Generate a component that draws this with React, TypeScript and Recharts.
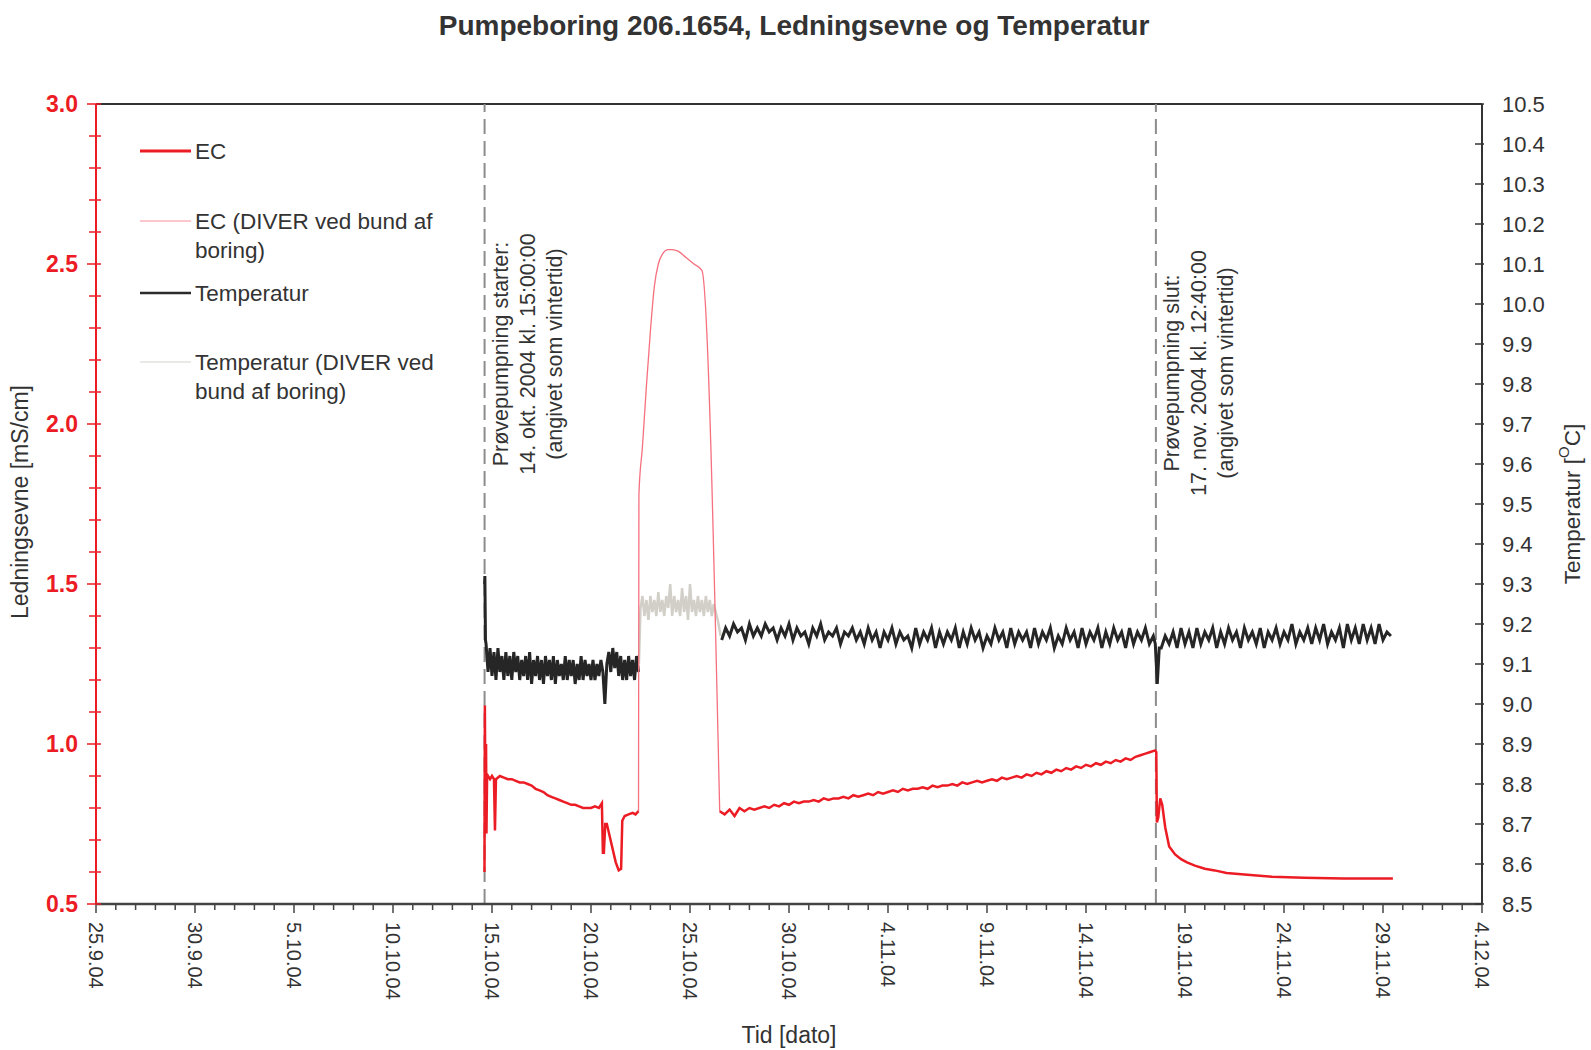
import React from "react";
import { LineChart, Line, XAxis, YAxis, ReferenceLine } from "recharts";

const W = 1591;
const H = 1050;
const FONT = "'Liberation Sans', Arial, sans-serif";
const RED = "#ec1c24";
const TXT = "#333333";

// x-axis: days after 25.9.04
const dateLabels = [
  "25.9.04", "30.9.04", "5.10.04", "10.10.04", "15.10.04", "20.10.04", "25.10.04",
  "30.10.04", "4.11.04", "9.11.04", "14.11.04", "19.11.04", "24.11.04", "29.11.04", "4.12.04",
];
const dayTicks = Array.from({ length: 71 }, (_, i) => i);
const ecTicks = Array.from({ length: 26 }, (_, i) => +(0.5 + i * 0.1).toFixed(1));
const tempTicks = Array.from({ length: 21 }, (_, i) => +(8.5 + i * 0.1).toFixed(1));

const pumpStart = 19.625; // 14.10.04 15:00
const pumpEnd = 53.53; // 17.11.04 12:40

// EC, thick red, before the diver period
const ecA: [number, number][] = [
  [19.62, 0.6], [19.64, 1.12], [19.66, 0.88], [19.7, 1.0], [19.72, 0.72], [19.75, 0.89],
  [19.8, 0.9], [19.9, 0.89], [20.0, 0.9], [20.1, 0.89], [20.15, 0.73], [20.2, 0.89],
  [20.4, 0.9], [20.6, 0.895], [20.8, 0.89], [21.0, 0.89], [21.2, 0.885], [21.4, 0.88],
  [21.6, 0.88], [21.8, 0.875], [22.0, 0.87], [22.2, 0.86], [22.4, 0.855], [22.6, 0.85],
  [22.8, 0.84], [23.0, 0.835], [23.2, 0.83], [23.4, 0.825], [23.6, 0.82], [23.8, 0.815],
  [24.0, 0.81], [24.2, 0.81], [24.4, 0.805], [24.6, 0.8], [24.8, 0.8], [25.0, 0.8],
  [25.2, 0.805], [25.4, 0.8], [25.55, 0.815], [25.6, 0.66], [25.65, 0.66], [25.72, 0.75],
  [25.8, 0.75], [25.95, 0.71], [26.1, 0.67], [26.25, 0.63], [26.4, 0.605], [26.52, 0.61],
  [26.58, 0.76], [26.7, 0.775], [26.9, 0.78], [27.1, 0.785], [27.25, 0.78], [27.4, 0.79],
];

// EC from the diver at the bottom of the well
const ecDiver: [number, number][] = [
  [27.4, 0.79], [27.42, 1.78], [27.6, 1.93], [27.8, 2.12], [28.0, 2.29], [28.2, 2.43],
  [28.4, 2.5], [28.6, 2.53], [28.9, 2.545], [29.1, 2.545], [29.4, 2.54], [29.8, 2.52],
  [30.2, 2.5], [30.6, 2.48], [31.5, 0.79],
];

// EC, thick red, logged every 0.25 day from 31.5
const ecBStart = 31.5;
const ecBStep = 0.25;
const ecB = [
  0.79, 0.78, 0.795, 0.775, 0.8, 0.79, 0.8, 0.795,
  0.8, 0.805, 0.8, 0.81, 0.805, 0.815, 0.81, 0.82, 0.815, 0.82,
  0.82, 0.825, 0.82, 0.83, 0.825, 0.83, 0.83, 0.835, 0.83, 0.84,
  0.835, 0.84, 0.845, 0.84, 0.85, 0.845, 0.85, 0.855, 0.85, 0.86,
  0.855, 0.86, 0.86, 0.865, 0.86, 0.87, 0.865, 0.87, 0.87, 0.875,
  0.87, 0.88, 0.875, 0.88, 0.885, 0.88, 0.885, 0.89, 0.885, 0.895,
  0.89, 0.895, 0.9, 0.895, 0.905, 0.9, 0.91, 0.905, 0.915, 0.91,
  0.92, 0.915, 0.925, 0.92, 0.93, 0.925, 0.935, 0.93, 0.94, 0.935,
  0.945, 0.94, 0.95, 0.945, 0.955, 0.95, 0.96, 0.965, 0.97, 0.975,
  0.98,
];

// EC after pumping stopped
const ecC: [number, number][] = [
  [53.55, 0.975], [53.58, 0.755], [53.65, 0.77], [53.75, 0.83], [53.85, 0.81], [54.0, 0.74],
  [54.2, 0.68], [54.5, 0.655], [54.8, 0.64], [55.1, 0.63], [55.5, 0.62], [56.0, 0.61],
  [56.5, 0.605], [57.1, 0.597], [58.0, 0.592], [59.4, 0.585], [61.0, 0.582], [63.0, 0.58],
  [65.5, 0.58],
];

// Temperature, black, first period
const tempStartPts: [number, number][] = [[19.625, 9.3], [19.64, 9.32], [19.67, 9.16]];
const tempAStart = 19.7;
const tempAStep = 0.1;
const tempA = [
  9.15, 9.08, 9.14, 9.07, 9.13, 9.06, 9.14, 9.08, 9.12, 9.06,
  9.13, 9.07, 9.12, 9.06, 9.13, 9.08, 9.12, 9.06, 9.11, 9.07,
  9.12, 9.06, 9.13, 9.05, 9.11, 9.07, 9.12, 9.06, 9.11, 9.05,
  9.12, 9.07, 9.11, 9.06, 9.12, 9.05, 9.11, 9.07, 9.1, 9.06,
  9.12, 9.06, 9.11, 9.07, 9.11, 9.05, 9.1, 9.06, 9.12, 9.06,
  9.11, 9.07, 9.1, 9.06, 9.11, 9.06, 9.1, 9.07, 9.11, 9.08,
  9.0,
  9.1, 9.13, 9.08, 9.14, 9.09, 9.13, 9.07, 9.12, 9.06,
  9.11, 9.06, 9.12, 9.07, 9.11, 9.06, 9.12, 9.08,
];

// Temperature from the diver
const tempDiverStart = 27.5;
const tempDiverStep = 0.1;
const tempDiver = [
  9.24, 9.27, 9.22, 9.26, 9.21, 9.27, 9.23, 9.26, 9.22, 9.28,
  9.23, 9.26, 9.22, 9.27, 9.24, 9.3, 9.22, 9.27, 9.23, 9.26,
  9.22, 9.29, 9.23, 9.27, 9.21, 9.3, 9.23, 9.26, 9.22, 9.27,
  9.23, 9.26, 9.22, 9.27, 9.23, 9.26, 9.22, 9.25, 9.23,
];
const tempDiverEnds: [number, number][] = [[27.42, 9.1], [31.4, 9.21], [31.55, 9.17]];

// Temperature, black, second period (logged every 0.2 day)
const tempBStep = 0.2;
const tempB1Start = 31.6;
const tempB1 = [
  9.16, 9.19, 9.17, 9.2, 9.18, 9.19, 9.16, 9.2, 9.17, 9.19,
  9.17, 9.2, 9.18, 9.19, 9.16, 9.19, 9.17, 9.2, 9.16, 9.19,
  9.17, 9.18, 9.15, 9.19, 9.17, 9.2, 9.16, 9.18, 9.17, 9.19,
  9.15, 9.18, 9.17, 9.19, 9.16, 9.18, 9.15, 9.19, 9.16, 9.18,
  9.14, 9.18, 9.16, 9.19, 9.15, 9.18, 9.16, 9.17, 9.14, 9.19,
  9.15, 9.18, 9.16, 9.19, 9.14, 9.18, 9.15, 9.18, 9.16, 9.19,
  9.14, 9.18, 9.15, 9.19, 9.16, 9.18, 9.14, 9.17, 9.15, 9.19,
  9.16, 9.18, 9.14, 9.19, 9.15, 9.18, 9.16, 9.18, 9.14, 9.19,
  9.15, 9.18, 9.16, 9.19, 9.14, 9.17, 9.15, 9.19, 9.16, 9.18,
  9.14, 9.19, 9.15, 9.18, 9.16, 9.19, 9.14, 9.18, 9.15, 9.19,
  9.16, 9.18, 9.14, 9.19, 9.15, 9.18, 9.16, 9.19, 9.15, 9.17,
];
const tempDip: [number, number][] = [[53.5, 9.15], [53.6, 9.05], [53.7, 9.14]];
const tempB2Start = 53.8;
const tempB2 = [
  9.14, 9.17, 9.15, 9.18, 9.14, 9.19, 9.15, 9.18, 9.14,
  9.19, 9.15, 9.18, 9.16, 9.19, 9.14, 9.18, 9.15, 9.19, 9.16,
  9.18, 9.14, 9.19, 9.16, 9.18, 9.15, 9.19, 9.14, 9.18, 9.16,
  9.19, 9.15, 9.18, 9.16, 9.2, 9.15, 9.18, 9.16, 9.19, 9.15,
  9.19, 9.16, 9.2, 9.15, 9.18, 9.16, 9.19, 9.14, 9.2, 9.16,
  9.19, 9.15, 9.2, 9.16, 9.19, 9.15, 9.2, 9.16, 9.18, 9.17,
];

type Pt = { x: number; v: number };
const fromPairs = (p: [number, number][]): Pt[] => p.map(([x, v]) => ({ x, v }));
const fromLog = (start: number, step: number, vals: number[]): Pt[] =>
  vals.map((v, i) => ({ x: +(start + i * step).toFixed(3), v }));

const ecLine1 = fromPairs(ecA);
const ecDiverLine = fromPairs(ecDiver);
const ecLine2 = [...fromLog(ecBStart, ecBStep, ecB), ...fromPairs(ecC)];
const tempLine1 = [...fromPairs(tempStartPts), ...fromLog(tempAStart, tempAStep, tempA)];
const tempDiverLine = [
  fromPairs(tempDiverEnds.slice(0, 1))[0],
  ...fromLog(tempDiverStart, tempDiverStep, tempDiver),
  ...fromPairs(tempDiverEnds.slice(1)),
];
const tempLine2 = [
  ...fromLog(tempB1Start, tempBStep, tempB1),
  ...fromPairs(tempDip),
  ...fromLog(tempB2Start, tempBStep, tempB2),
];

const startNote = ["Prøvepumpning starter:", "14. okt. 2004 kl. 15:00:00", "(angivet som vintertid)"];
const endNote = ["Prøvepumpning slut:", "17. nov. 2004 kl. 12:40:00", "(angivet som vintertid)"];

const XTick = (props: any) => {
  const { x, y, payload } = props;
  const d = payload.value as number;
  const major = d % 5 === 0;
  return (
    <g>
      <line x1={x} x2={x} y1={y - 1} y2={y + (major ? 9 : 6)} stroke="#444" strokeWidth={1.5} />
      {major && (
        <text
          transform={`rotate(90 ${x} ${y + 18})`}
          x={x}
          y={y + 18}
          textAnchor="start"
          dominantBaseline="central"
          fontSize={20}
          fill={TXT}
          fontFamily={FONT}
        >
          {dateLabels[d / 5]}
        </text>
      )}
    </g>
  );
};

const LeftTick = (props: any) => {
  const { x, y, payload } = props;
  const v = payload.value as number;
  const major = Math.abs(v * 2 - Math.round(v * 2)) < 1e-6;
  return (
    <g>
      <line x1={x - (major ? 9 : 7)} x2={x + 5} y1={y} y2={y} stroke={RED} strokeWidth={1.5} />
      {major && (
        <text x={x - 18} y={y} textAnchor="end" dominantBaseline="central" fontSize={23}
          fontWeight="bold" fill={RED} fontFamily={FONT}>
          {v.toFixed(1)}
        </text>
      )}
    </g>
  );
};

const RightTick = (props: any) => {
  const { x, y, payload } = props;
  const v = payload.value as number;
  return (
    <g>
      <line x1={x - 7} x2={x + 2} y1={y} y2={y} stroke="#333" strokeWidth={1.5} />
      <text x={x + 20} y={y} textAnchor="start" dominantBaseline="central" fontSize={22}
        fill={TXT} fontFamily={FONT}>
        {v.toFixed(1)}
      </text>
    </g>
  );
};

const Note = (props: any) => {
  const { viewBox, lines, cy } = props;
  const x0 = viewBox ? viewBox.x : 0;
  return (
    <g>
      {lines.map((t: string, i: number) => {
        const cx = x0 + 16 + i * 27;
        return (
          <text key={i} transform={`rotate(-90 ${cx} ${cy})`} x={cx} y={cy} textAnchor="middle"
            dominantBaseline="central" fontSize={21.5} fill={TXT} fontFamily={FONT}>
            {t}
          </text>
        );
      })}
    </g>
  );
};

const legendItems = [
  { lines: ["EC"], color: RED, width: 3, y: 151 },
  { lines: ["EC (DIVER ved bund af", "boring)"], color: "#f7909a", width: 1.2, y: 221 },
  { lines: ["Temperatur"], color: "#2b2b2b", width: 2.5, y: 293 },
  { lines: ["Temperatur (DIVER ved", "bund af boring)"], color: "#e4e2dc", width: 1.5, y: 362 },
];

export default function App() {
  return (
    <div style={{ position: "relative", width: W, height: H, background: "#fff" }}>
      <style>{"body{margin:0;}"}</style>
      <LineChart width={W} height={H} margin={{ top: 104, right: 0, bottom: 0, left: 0 }}>
        <XAxis
          dataKey="x"
          type="number"
          domain={[0, 70]}
          ticks={dayTicks}
          interval={0}
          height={146}
          tickSize={0}
          tickMargin={0}
          tick={<XTick />}
          axisLine={{ stroke: "#444", strokeWidth: 2.5 }}
          allowDataOverflow
        />
        <YAxis
          yAxisId="ec"
          orientation="left"
          domain={[0.5, 3]}
          ticks={ecTicks}
          interval={0}
          width={96}
          tickSize={0}
          tickMargin={0}
          tick={<LeftTick />}
          axisLine={{ stroke: RED, strokeWidth: 2 }}
          allowDataOverflow
        />
        <YAxis
          yAxisId="temp"
          orientation="right"
          domain={[8.5, 10.5]}
          ticks={tempTicks}
          interval={0}
          width={109}
          tickSize={0}
          tickMargin={0}
          tick={<RightTick />}
          axisLine={{ stroke: "#333", strokeWidth: 2 }}
          allowDataOverflow
        />
        <ReferenceLine yAxisId="ec" y={3} stroke="#333" strokeWidth={2} />
        <ReferenceLine
          yAxisId="ec"
          x={pumpStart}
          stroke="#8c8c8c"
          strokeWidth={2}
          strokeDasharray="15 7"
          label={<Note lines={startNote} cy={354} />}
        />
        <ReferenceLine
          yAxisId="ec"
          x={pumpEnd}
          stroke="#8c8c8c"
          strokeWidth={2}
          strokeDasharray="15 7"
          label={<Note lines={endNote} cy={373} />}
        />
        <Line yAxisId="temp" data={tempDiverLine} dataKey="v" stroke="#d2cfc8" strokeWidth={2.5}
          dot={false} type="linear" isAnimationActive={false} />
        <Line yAxisId="temp" data={tempLine1} dataKey="v" stroke="#262626" strokeWidth={3}
          dot={false} type="linear" isAnimationActive={false} />
        <Line yAxisId="temp" data={tempLine2} dataKey="v" stroke="#262626" strokeWidth={3}
          dot={false} type="linear" isAnimationActive={false} />
        <Line yAxisId="ec" data={ecDiverLine} dataKey="v" stroke="#f6707e" strokeWidth={1.3}
          dot={false} type="monotone" isAnimationActive={false} />
        <Line yAxisId="ec" data={ecLine1} dataKey="v" stroke={RED} strokeWidth={2.5}
          dot={false} type="linear" isAnimationActive={false} />
        <Line yAxisId="ec" data={ecLine2} dataKey="v" stroke={RED} strokeWidth={2.5}
          dot={false} type="linear" isAnimationActive={false} />
      </LineChart>
      <svg width={W} height={H} style={{ position: "absolute", left: 0, top: 0, pointerEvents: "none" }}>
        <text x={794} y={35} textAnchor="middle" fontSize={28} fontWeight="bold" fill={TXT} fontFamily={FONT}>
          Pumpeboring 206.1654, Ledningsevne og Temperatur
        </text>
        <text transform="rotate(-90 20 502)" x={20} y={502} textAnchor="middle" dominantBaseline="central"
          fontSize={23} fill={TXT} fontFamily={FONT}>
          Ledningsevne [mS/cm]
        </text>
        <text transform="rotate(-90 1572 504)" x={1572} y={504} textAnchor="middle" dominantBaseline="central"
          fontSize={22.5} fill={TXT} fontFamily={FONT}>
          Temperatur [<tspan fontSize={15} dy={-9}>O</tspan><tspan dy={9}>C]</tspan>
        </text>
        <text x={789} y={1043} textAnchor="middle" fontSize={23} fill={TXT} fontFamily={FONT}>
          Tid [dato]
        </text>
        {legendItems.map((it, i) => (
          <g key={i}>
            <line x1={140} x2={191} y1={it.y} y2={it.y} stroke={it.color} strokeWidth={it.width} />
            {it.lines.map((t, j) => (
              <text key={j} x={195} y={it.y + j * 29} dominantBaseline="central" fontSize={22.5}
                fill={TXT} fontFamily={FONT}>
                {t}
              </text>
            ))}
          </g>
        ))}
      </svg>
    </div>
  );
}
